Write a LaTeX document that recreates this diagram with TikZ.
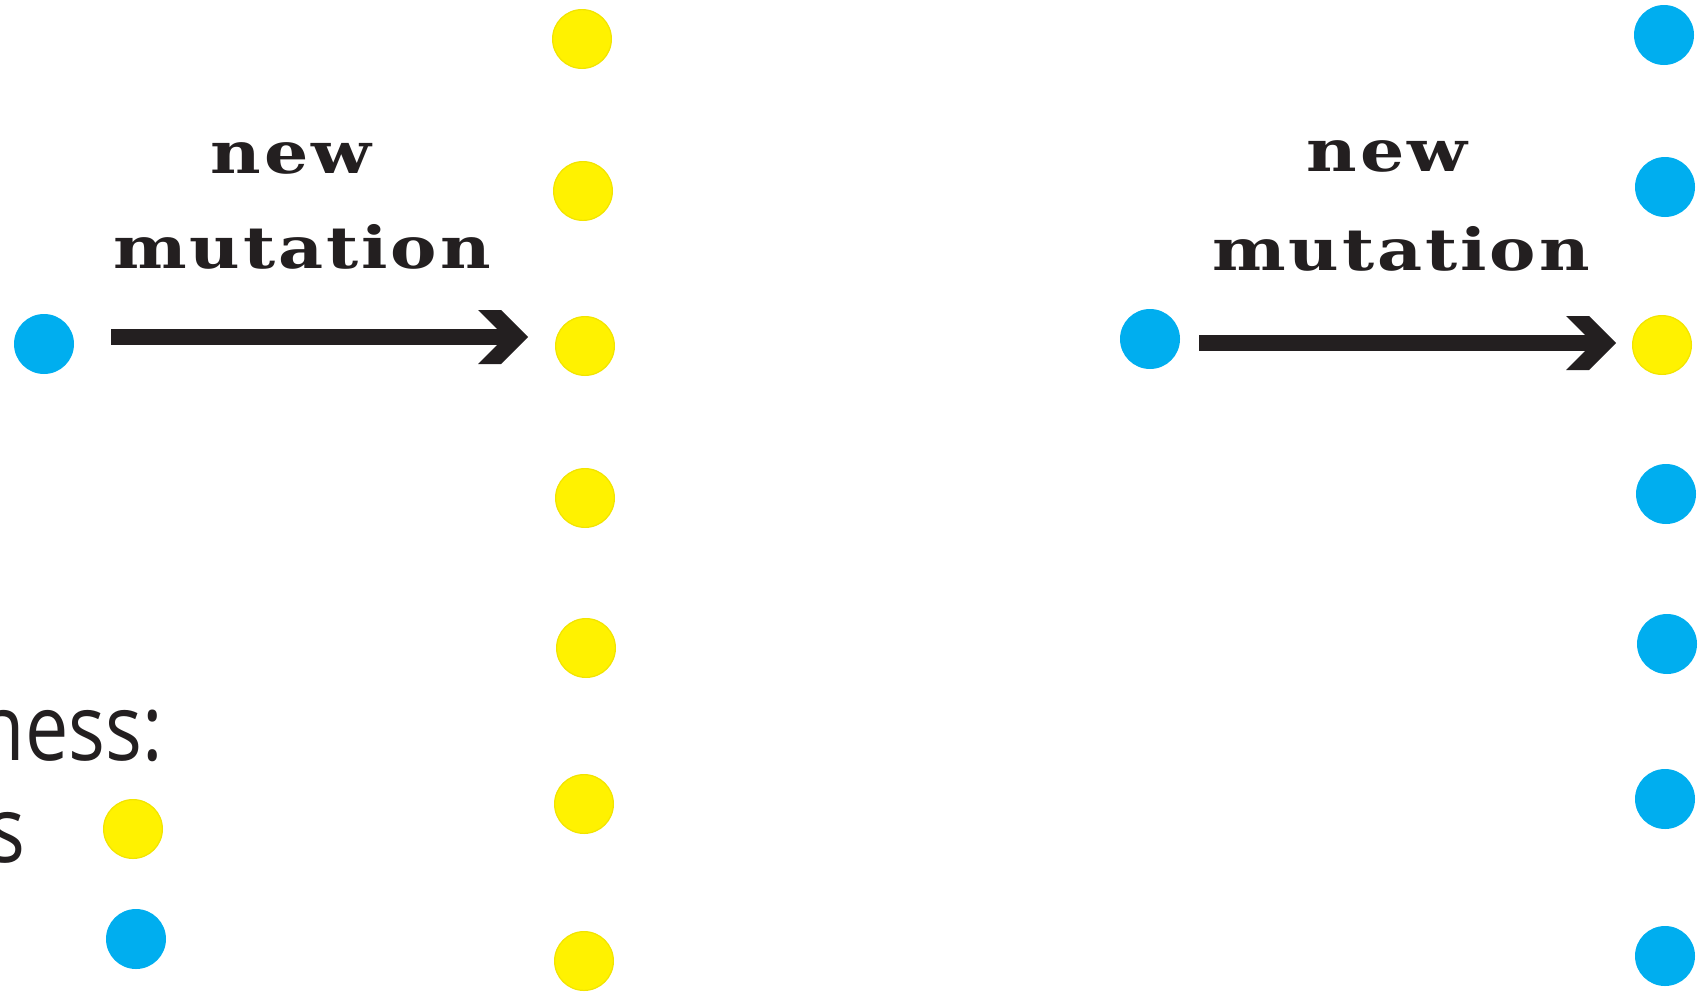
\documentclass[tikz,border=0pt]{standalone}
\usepackage{fontspec}
\setmainfont{Open Sans}[FakeStretch=0.84]
\newfontfamily\labelfont{DejaVu Serif}[BoldFont={DejaVu Serif Bold}, BoldFeatures={FakeStretch=1.2, LetterSpace=5}]
\definecolor{cyanB}{HTML}{00AEEF}
\definecolor{yelB}{HTML}{FFF200}
\definecolor{yelE}{HTML}{F2E400}
\definecolor{ink}{HTML}{231F20}
\tikzset{
  blue dot/.style={circle, fill=cyanB, draw=none, minimum size=60pt, inner sep=0pt},
  yellow dot/.style={circle, fill=yelB, draw=yelE, line width=1.2pt, minimum size=58.8pt, inner sep=0pt},
  shaft/.style={draw=ink, line width=16pt, line cap=butt},
  headfill/.style={fill=ink},
  mutlabel/.style={font=\labelfont\bfseries\fontsize{58}{60}\selectfont, text=ink, inner sep=0pt, anchor=base},
  legendtext/.style={font=\fontsize{92}{96}\selectfont, text=ink, inner sep=0pt, anchor=base east},
}
\begin{document}
\begin{tikzpicture}[x=1pt, y=-1pt]
\useasboundingbox (0,0) rectangle (1700,991);
\clip (0,0) rectangle (1700,991);

% legend
\node[legendtext] (lgA) at (163,760) {ness:};
\node[legendtext] (lgB) at (26,862) {s};
\node[yellow dot] (lgY) at (133,829) {};
\node[blue dot]   (lgC) at (136,939) {};

% first mutation: one blue ancestor, seven yellow descendants
\node[blue dot] (b0) at (44,344) {};
\node[yellow dot] (y1) at (582,39) {};
\node[yellow dot] (y2) at (583,191) {};
\node[yellow dot] (y3) at (585,346) {};
\node[yellow dot] (y4) at (585,498) {};
\node[yellow dot] (y5) at (586,648) {};
\node[yellow dot] (y6) at (584,804) {};
\node[yellow dot] (y7) at (584,961) {};

\node[mutlabel] (n1) at (291,173) {new};
\node[mutlabel] (m1) at (302,268) {mutation};

\coordinate (sL) at (111,337);
\coordinate (tL) at (528,337);
\draw[shaft] (sL) -- ([xshift=-23pt]tL);
\fill[headfill] ([shift={(-50,-27)}]tL) -- ([shift={(-27,-27)}]tL) -- (tL)
  -- ([shift={(-27,27)}]tL) -- ([shift={(-50,27)}]tL) -- ([shift={(-23,0)}]tL) -- cycle;

% second mutation: one blue ancestor, one yellow among blue descendants
\node[blue dot] (b1) at (1150,339) {};
\node[blue dot]   (c1) at (1664,35) {};
\node[blue dot]   (c2) at (1665,187) {};
\node[yellow dot] (c3) at (1662,345) {};
\node[blue dot]   (c4) at (1666,494) {};
\node[blue dot]   (c5) at (1667,644) {};
\node[blue dot]   (c6) at (1665,799) {};
\node[blue dot]   (c7) at (1665,956) {};

\node[mutlabel] (n2) at (1387,171) {new};
\node[mutlabel] (m2) at (1401,270) {mutation};

\coordinate (sR) at (1199,343);
\coordinate (tR) at (1616,343);
\draw[shaft] (sR) -- ([xshift=-23pt]tR);
\fill[headfill] ([shift={(-50,-27)}]tR) -- ([shift={(-27,-27)}]tR) -- (tR)
  -- ([shift={(-27,27)}]tR) -- ([shift={(-50,27)}]tR) -- ([shift={(-23,0)}]tR) -- cycle;
\end{tikzpicture}
\end{document}
